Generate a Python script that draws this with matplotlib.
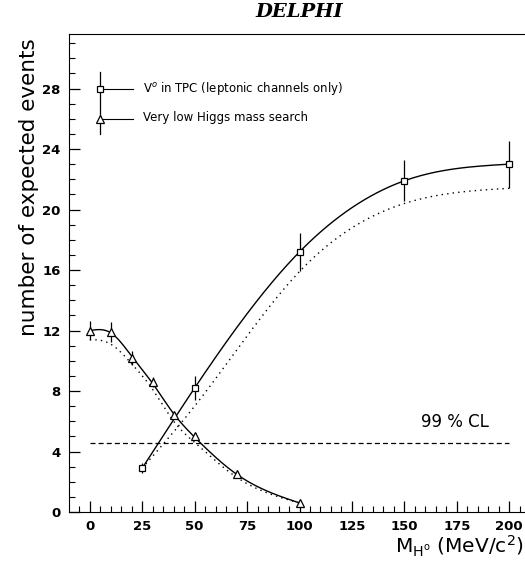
import matplotlib.pyplot as plt
import numpy as np

# V0 in TPC (leptonic channels only)
mass_v0 = [25, 50, 100, 150, 200]
events_v0 = [2.9, 8.2, 17.2, 21.9, 23.0]
err_v0 = [0.35, 0.8, 1.25, 1.35, 1.55]
# dotted curve under it
mass_v0_dot = [25, 50, 100, 150, 200]
events_v0_dot = [2.9, 7.0, 15.9, 20.4, 21.4]

# very low Higgs mass search
mass_low = [0, 10, 20, 30, 40, 50, 70, 100]
events_low = [12.0, 11.9, 10.2, 8.6, 6.4, 5.0, 2.5, 0.6]
err_low = [0.6, 0.65, 0.45, 0.35, 0.2, 0.2, 0.15, 0.1]
# solid fit curve through them
fit_low = [12.0, 11.85, 10.3, 8.5, 6.5, 4.95, 2.5, 0.6]
# dotted curve under it
events_low_dot = [11.4, 11.1, 9.8, 8.1, 6.0, 4.6, 2.3, 0.6]

cl99 = 4.55


def spline(x, y, xs, start_slope=None):
    # cubic spline (natural, or clamped at the start), only to draw smooth curves
    x = np.asarray(x, float)
    y = np.asarray(y, float)
    n = len(x)
    h = np.diff(x)
    A = np.zeros((n, n))
    b = np.zeros(n)
    if start_slope is None:
        A[0, 0] = 1
    else:
        A[0, 0] = 2 * h[0]
        A[0, 1] = h[0]
        b[0] = 6 * ((y[1] - y[0]) / h[0] - start_slope)
    A[-1, -1] = 1
    for k in range(1, n - 1):
        A[k, k - 1] = h[k - 1]
        A[k, k] = 2 * (h[k - 1] + h[k])
        A[k, k + 1] = h[k]
        b[k] = 6 * ((y[k + 1] - y[k]) / h[k] - (y[k] - y[k - 1]) / h[k - 1])
    M = np.linalg.solve(A, b)
    i = np.clip(np.searchsorted(x, xs) - 1, 0, n - 2)
    t0 = x[i + 1] - xs
    t1 = xs - x[i]
    hi = h[i]
    return (M[i] * t0**3 / (6 * hi) + M[i + 1] * t1**3 / (6 * hi)
            + (y[i] / hi - M[i] * hi / 6) * t0 + (y[i + 1] / hi - M[i + 1] * hi / 6) * t1)


fig = plt.figure(figsize=(5.25, 5.61), dpi=100)
ax = fig.add_axes([0.131, 0.0873, 0.879, 0.852])

xs = np.linspace(25, 200, 300)
ax.plot(xs, spline(mass_v0, events_v0, xs), color='black', lw=1.0)
ax.plot(xs, spline(mass_v0_dot, events_v0_dot, xs), color='black', lw=1.0, ls=(0, (1, 3)))
xs = np.linspace(0, 100, 300)
ax.plot(xs, spline(mass_low, fit_low, xs, start_slope=0.02), color='black', lw=1.0)
ax.plot(xs, spline(mass_low, events_low_dot, xs, start_slope=0.0), color='black', lw=1.0,
        ls=(0, (1, 3)))

ax.errorbar(mass_v0, events_v0, yerr=err_v0, fmt='s', ms=5, mfc='white', mec='black',
            mew=0.9, ecolor='black', elinewidth=0.9, capsize=0, zorder=5)
ax.errorbar(mass_low, events_low, yerr=err_low, fmt='^', ms=6, mfc='white', mec='black',
            mew=0.9, ecolor='black', elinewidth=0.9, capsize=0, zorder=5)

ax.plot([0, 200], [cl99, cl99], color='black', lw=0.9, ls=(0, (4, 2.5)))
ax.text(174, 5.95, '99 % CL', fontsize=12, ha='center', va='center')

# hand-drawn style legend
ax.plot([4.8, 4.8], [25.0, 29.1], color='black', lw=0.9)
ax.plot([4.8, 20.5], [28, 28], color='black', lw=0.8)
ax.plot([4.8, 20.5], [26, 26], color='black', lw=0.8)
ax.plot([4.8], [28], 's', ms=5, mfc='white', mec='black', mew=0.9)
ax.plot([4.8], [26], '^', ms=6, mfc='white', mec='black', mew=0.9)
ax.text(25.3, 28, 'V$^o$ in TPC (leptonic channels only)', fontsize=8.5, va='center')
ax.text(25.3, 26.1, 'Very low Higgs mass search', fontsize=8.5, va='center')

ax.set_xlim(-10, 210)
ax.set_ylim(0, 31.6)
ax.set_xticks(np.arange(0, 201, 25))
ax.set_xticks(np.arange(-5, 211, 5), minor=True)
ax.set_yticks(np.arange(0, 29, 4))
ax.set_yticks(np.arange(0, 32, 1), minor=True)
ax.tick_params(which='both', direction='in', top=False, right=False,
               labelsize=9.5, pad=6)
ax.tick_params(which='major', length=8, width=0.9)
ax.tick_params(which='minor', length=4, width=0.8)
for lab in ax.get_xticklabels() + ax.get_yticklabels():
    lab.set_fontweight('bold')
ax.spines['right'].set_visible(False)

fig.text(0.57, 0.978, 'DELPHI', fontsize=14, fontstyle='italic', fontweight='bold',
         family='DejaVu Serif', ha='center', va='center')
fig.text(0.055, 0.667, 'number of expected events', fontsize=15.5, rotation=90,
         ha='center', va='center')
fig.text(0.997, 0.004, r'M$_{\mathregular{H^o}}$ (MeV/c$^2$)', fontsize=14.5,
         ha='right', va='bottom')

plt.savefig('out.png', dpi=100)
